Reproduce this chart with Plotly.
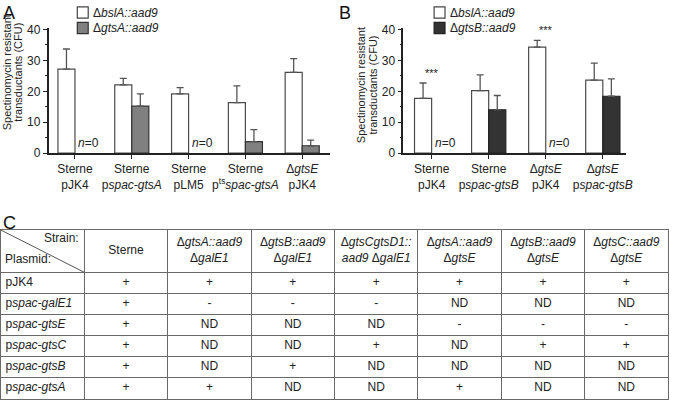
import plotly.graph_objects as go

W, H = 675, 407
FONT = "Liberation Sans, Arial, sans-serif"

# ---------------- Panel A data ----------------
cats_a = ["Sterne<br>pJK4", "Sterne<br>p<i>spac-gtsA</i>", "Sterne<br>pLM5",
          "Sterne<br>p<sup>ts</sup><i>spac-gtsA</i>", "Δ<i>gtsE</i><br>pJK4"]
bsla_a = [27.2, 22.1, 19.2, 16.35, 26.1]
bsla_a_err = [6.5, 2.1, 2.0, 5.4, 4.5]
gtsa_a = [None, 15.2, None, 3.75, 2.4]
gtsa_a_err = [None, 4.0, None, 3.85, 1.8]
name_a1 = "Δ<i>bslA::aad9</i>"
name_a2 = "Δ<i>gtsA::aad9</i>"

# ---------------- Panel B data ----------------
cats_b = ["Sterne<br>pJK4", "Sterne<br>p<i>spac-gtsB</i>", "Δ<i>gtsE</i><br>pJK4",
          "Δ<i>gtsE</i><br>p<i>spac-gtsB</i>"]
bsla_b = [17.7, 20.2, 34.3, 23.6]
bsla_b_err = [5.0, 5.1, 2.2, 5.5]
gtsb_b = [None, 14.0, None, 18.4]
gtsb_b_err = [None, 4.65, None, 5.6]
sig_b = ["***", "", "***", ""]
name_b1 = "Δ<i>bslA::aad9</i>"
name_b2 = "Δ<i>gtsB::aad9</i>"

y_ticks = [0, 10, 20, 30, 40]
y_title_lines = ["Spectinomycin resistant", "transductants (CFU)"]

# ---------------- Panel C data ----------------
strain_headers = ["Sterne", "Δ<i>gtsA::aad9</i><br>Δ<i>galE1</i>",
                  "Δ<i>gtsB::aad9</i><br>Δ<i>galE1</i>",
                  "Δ<i>gtsCgtsD1::</i><br><i>aad9</i> Δ<i>galE1</i>",
                  "Δ<i>gtsA::aad9</i><br>Δ<i>gtsE</i>",
                  "Δ<i>gtsB::aad9</i><br>Δ<i>gtsE</i>",
                  "Δ<i>gtsC::aad9</i><br>Δ<i>gtsE</i>"]
plasmids = ["pJK4", "p<i>spac-galE1</i>", "p<i>spac-gtsE</i>", "p<i>spac-gtsC</i>",
            "p<i>spac-gtsB</i>", "p<i>spac-gtsA</i>"]
col_sterne = ["+", "+", "+", "+", "+", "+"]
col_gtsA_galE = ["+", "-", "ND", "ND", "ND", "+"]
col_gtsB_galE = ["+", "-", "ND", "ND", "+", "ND"]
col_gtsCD_galE = ["+", "-", "ND", "+", "ND", "ND"]
col_gtsA_gtsE = ["+", "ND", "-", "ND", "ND", "+"]
col_gtsB_gtsE = ["+", "ND", "-", "+", "ND", "ND"]
col_gtsC_gtsE = ["+", "ND", "-", "+", "ND", "ND"]
table_cols = [col_sterne, col_gtsA_galE, col_gtsB_galE, col_gtsCD_galE,
              col_gtsA_gtsE, col_gtsB_gtsE, col_gtsC_gtsE]
corner_top = "Strain:"
corner_bottom = "Plasmid:"

WHITE = "white"
GRAY = "#808080"
DARK = "#333333"


def px_x(p):
    return p / W


def px_y(p):
    return 1 - p / H


fig = go.Figure()

err_style = dict(type="data", symmetric=False, color="#555555", thickness=1.3, width=3.5)

# Panel A bars
fig.add_trace(go.Bar(x=list(range(len(cats_a))), y=bsla_a, name=name_a1, showlegend=False,
                     marker=dict(color=WHITE, line=dict(color="#4a4a4a", width=1.2)),
                     error_y=dict(array=bsla_a_err, arrayminus=[0] * len(bsla_a), **err_style),
                     xaxis="x", yaxis="y", hoverinfo="skip"))
fig.add_trace(go.Bar(x=list(range(len(cats_a))), y=gtsa_a, name=name_a2, showlegend=False,
                     marker=dict(color=GRAY, line=dict(color="#333333", width=1.2)),
                     error_y=dict(array=gtsa_a_err, arrayminus=[0] * len(gtsa_a), **err_style),
                     xaxis="x", yaxis="y", hoverinfo="skip"))
# Panel B bars
fig.add_trace(go.Bar(x=list(range(len(cats_b))), y=bsla_b, name=name_b1, showlegend=False,
                     marker=dict(color=WHITE, line=dict(color="#4a4a4a", width=1.2)),
                     error_y=dict(array=bsla_b_err, arrayminus=[0] * len(bsla_b), **err_style),
                     xaxis="x2", yaxis="y2", hoverinfo="skip"))
fig.add_trace(go.Bar(x=list(range(len(cats_b))), y=gtsb_b, name=name_b2, showlegend=False,
                     marker=dict(color=DARK, line=dict(color="#222222", width=1.2)),
                     error_y=dict(array=gtsb_b_err, arrayminus=[0] * len(gtsb_b), **err_style),
                     xaxis="x2", yaxis="y2", hoverinfo="skip"))

# Panel C table: text drawn on its own axes (columns 0..8, rows 0..8 with header spanning 0..2)
tx, ty, tt = [], [], []
for c, head in enumerate(strain_headers):
    tx.append(c + 1.5)
    ty.append(1.0)
    tt.append(head)
    for r, val in enumerate(table_cols[c]):
        tx.append(c + 1.5)
        ty.append(r + 2.5)
        tt.append(val)
fig.add_trace(go.Scatter(x=tx, y=ty, text=tt, mode="text", textposition="middle center",
                         textfont=dict(family=FONT, size=12, color="#222"),
                         xaxis="x3", yaxis="y3", showlegend=False, hoverinfo="skip",
                         cliponaxis=False))
fig.add_trace(go.Scatter(x=[0.055] * len(plasmids), y=[r + 2.5 for r in range(len(plasmids))],
                         text=plasmids, mode="text", textposition="middle right",
                         textfont=dict(family=FONT, size=12, color="#222"),
                         xaxis="x3", yaxis="y3", showlegend=False, hoverinfo="skip",
                         cliponaxis=False))

axis_common = dict(showgrid=False, zeroline=False, showline=True, linecolor="#222",
                   linewidth=1.5, ticks="outside", tickcolor="#222", ticklen=4,
                   tickfont=dict(family=FONT, size=12, color="#222"))

n_cols = len(strain_headers) + 1
n_rows = len(plasmids) + 2
grid_col = "#6a6a6a"
table_axis = dict(showgrid=True, gridcolor=grid_col, gridwidth=1.2, zeroline=False,
                  showline=True, mirror=True, linecolor=grid_col, linewidth=1.2,
                  showticklabels=False, ticks="", fixedrange=True)

y_dom = [px_y(152), px_y(23)]
fig.update_layout(
    width=W, height=H, margin=dict(l=0, r=0, t=0, b=0),
    paper_bgcolor="white", plot_bgcolor="white",
    barmode="group", bargap=0.4, bargroupgap=0,
    font=dict(family=FONT, size=12, color="#222"),
    xaxis=dict(domain=[px_x(49), px_x(333)], range=[-0.465, 4.49], anchor="y",
               tickmode="array", tickvals=list(range(len(cats_a))), ticktext=cats_a, **axis_common),
    yaxis=dict(domain=y_dom, range=[0, 40.4], anchor="x", tickmode="array", tickvals=y_ticks,
               minor=dict(dtick=5, ticks="outside", ticklen=2, tickcolor="#222"), **axis_common),
    xaxis2=dict(domain=[px_x(407), px_x(632)], range=[-0.495, 3.413], anchor="y2",
                tickmode="array", tickvals=list(range(len(cats_b))), ticktext=cats_b, **axis_common),
    yaxis2=dict(domain=y_dom, range=[0, 40.4], anchor="x2", tickmode="array", tickvals=y_ticks,
                minor=dict(dtick=5, ticks="outside", ticklen=2, tickcolor="#222"), **axis_common),
    xaxis3=dict(domain=[px_x(1), px_x(674)], range=[0, n_cols], anchor="y3",
                tickmode="array", tickvals=list(range(1, n_cols)), **table_axis),
    yaxis3=dict(domain=[px_y(406), px_y(231.5)], range=[n_rows, 0], anchor="x3",
                tickmode="array", tickvals=list(range(2, n_rows)), **table_axis),
    showlegend=False,
)

ann = []
shapes = []
# panel letters
for letter, xp, yp in [("A", 1, -5), ("B", 340, -5), ("C", 1, 212)]:
    ann.append(dict(text=letter, x=px_x(xp), y=px_y(yp), xref="paper", yref="paper",
                    xanchor="left", yanchor="top", showarrow=False,
                    font=dict(family=FONT, size=18, color="#111")))
# y titles (one annotation per line)
for xcs, yc in [((6.5, 18), 68), ((365, 376.5), 82)]:
    for xc, line in zip(xcs, y_title_lines):
        ann.append(dict(text=line, x=px_x(xc), y=px_y(yc), xref="paper", yref="paper",
                        xanchor="center", yanchor="middle", textangle=-90, showarrow=False,
                        font=dict(family=FONT, size=11, color="#222")))
# legends (swatch + label)
for x0, items in [(78, [(name_a1, WHITE, "#444"), (name_a2, GRAY, "#333")]),
                  (438, [(name_b1, WHITE, "#444"), (name_b2, DARK, "#222")])]:
    for k, (nm, fc, lc) in enumerate(items):
        top = 1 + 16 * k
        shapes.append(dict(type="rect", xref="paper", yref="paper", x0=px_x(x0), x1=px_x(x0 + 11),
                           y0=px_y(top + 11.5), y1=px_y(top), fillcolor=fc,
                           line=dict(color=lc, width=1.2)))
        ann.append(dict(text=nm, x=px_x(x0 + 14), y=px_y(top + 6), xref="paper", yref="paper",
                        xanchor="left", yanchor="middle", showarrow=False,
                        font=dict(family=FONT, size=12, color="#222")))
# n=0 labels
for xr, yr, vals in [("x", "y", gtsa_a), ("x2", "y2", gtsb_b)]:
    for i, v in enumerate(vals):
        if v is None:
            ann.append(dict(text="<i>n</i>=0", x=i, y=0, xref=xr, yref=yr, xanchor="left",
                            yanchor="bottom", xshift=1, yshift=1, showarrow=False,
                            font=dict(family=FONT, size=12, color="#222")))
# significance
for i, s in enumerate(sig_b):
    if s:
        ann.append(dict(text=s, x=i, y=bsla_b[i] + bsla_b_err[i], xref="x2", yref="y2",
                        xanchor="center", yanchor="bottom", yshift=2, showarrow=False,
                        font=dict(family=FONT, size=11, color="#222")))
# table corner header
ann.append(dict(text=corner_top, x=0.96, y=0.36, xref="x3", yref="y3",
                xanchor="right", yanchor="middle", showarrow=False,
                font=dict(family=FONT, size=12, color="#222")))
ann.append(dict(text=corner_bottom, x=0.03, y=1.36, xref="x3", yref="y3",
                xanchor="left", yanchor="middle", showarrow=False,
                font=dict(family=FONT, size=12, color="#222")))
shapes.append(dict(type="line", xref="x3", yref="y3", x0=0, y0=0, x1=1, y1=2,
                   line=dict(color="#555", width=1)))
fig.update_layout(annotations=ann, shapes=shapes)

fig.write_html("out.html", config={"displayModeBar": False},
               post_script="document.body.style.margin='0';document.body.style.padding='0';")
